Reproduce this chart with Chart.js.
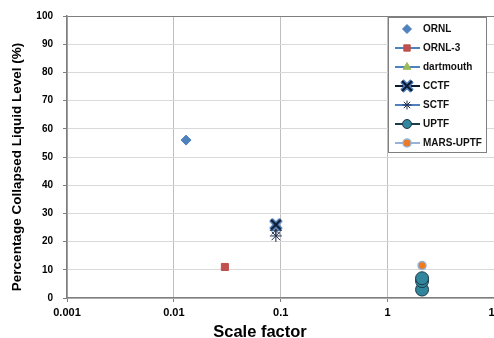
<!DOCTYPE html>
<html>
<head>
<meta charset="utf-8">
<script src="https://cdn.jsdelivr.net/npm/chart.js@4/dist/chart.umd.min.js"></script>
<style>
  html, body { margin: 0; padding: 0; background: #fff; overflow: hidden; }
  #caixa { width: 494px; height: 338px; overflow: hidden; }
</style>
</head>
<body>
<!-- o grafico original esta cortado na direita, por isso o canvas e um pouco mais largo -->
<div id="caixa"><canvas id="grafico" width="502" height="338"></canvas></div>
<script>
// dados
const seriesNames = ["ORNL", "ORNL-3", "dartmouth", "CCTF", "SCTF", "UPTF", "MARS-UPTF"];

const ornlX = [0.013];
const ornlY = [56];
const ornl3X = [0.03];
const ornl3Y = [11];
const dartmouthX = [];
const dartmouthY = [];
const cctfX = [0.09];
const cctfY = [26];
const sctfX = [0.09, 0.09];
const sctfY = [22, 24];
const uptfX = [2.1, 2.1, 2.1];
const uptfY = [3, 6, 7];
const marsX = [2.1];
const marsY = [11.5];

const xTicks = [0.001, 0.01, 0.1, 1, 10];
const xTickLabels = ["0.001", "0.01", "0.1", "1", "10"];
const yTitle = "Percentage Collapsed Liquid Level (%)";
const xTitle = "Scale factor";

const FONT = "'Liberation Sans', Arial, sans-serif";

function pontos(xs, ys) {
  return xs.map((x, i) => ({ x: x, y: ys[i] }));
}

// marcador X do CCTF (X preto com preenchimento azul, estilo excel)
function marcadorX() {
  const c = document.createElement("canvas");
  c.width = 14; c.height = 14;
  const g = c.getContext("2d");
  const cruz = () => {
    g.beginPath();
    g.moveTo(2, 2); g.lineTo(12, 12);
    g.moveTo(12, 2); g.lineTo(2, 12);
    g.stroke();
  };
  g.strokeStyle = "#4F81BD"; g.lineWidth = 5; cruz();
  g.strokeStyle = "#0F1B33"; g.lineWidth = 2.2; cruz();
  return c;
}

const datasets = [
  { label: seriesNames[0], data: pontos(ornlX, ornlY), pointStyle: "rectRot", pointRadius: 5,
    backgroundColor: "#4F81BD", borderColor: "#4F81BD", borderWidth: 1, legendLine: null },
  { label: seriesNames[1], data: pontos(ornl3X, ornl3Y), pointStyle: "rect", pointRadius: 5,
    backgroundColor: "#C0504D", borderColor: "#C0504D", borderWidth: 1, legendLine: "#4F81BD" },
  { label: seriesNames[2], data: pontos(dartmouthX, dartmouthY), pointStyle: "triangle", pointRadius: 5,
    backgroundColor: "#9BBB59", borderColor: "#9BBB59", borderWidth: 1, legendLine: "#4F81BD" },
  { label: seriesNames[3], data: pontos(cctfX, cctfY), pointStyle: marcadorX(), pointRadius: 6,
    backgroundColor: "#4F81BD", borderColor: "#0F1B33", borderWidth: 1, legendLine: "#0F1B33" },
  { label: seriesNames[4], data: pontos(sctfX, sctfY), pointStyle: "star", pointRadius: 6,
    backgroundColor: "#1F2F4F", borderColor: "#1F2F4F", borderWidth: 1, legendLine: "#4F81BD" },
  { label: seriesNames[5], data: pontos(uptfX, uptfY), pointStyle: "circle", pointRadius: 6.5,
    backgroundColor: "#31859C", borderColor: "#1D3B4A", borderWidth: 1, legendLine: "#1D3B4A" },
  { label: seriesNames[6], data: pontos(marsX, marsY), pointStyle: "circle", pointRadius: 4,
    backgroundColor: "#F07A1E", borderColor: "#95B3D7", borderWidth: 1.5, legendLine: "#95B3D7" }
];

// legenda desenhada a mao (linha + marcador, como no excel)
const legenda = {
  id: "legenda",
  afterDraw(chart) {
    const ctx = chart.ctx;
    ctx.save();
    ctx.fillStyle = "#fff";
    ctx.fillRect(388.5, 17.5, 98, 135);
    ctx.strokeStyle = "#7F7F7F";
    ctx.lineWidth = 1;
    ctx.strokeRect(388.5, 17.5, 98, 135);
    chart.data.datasets.forEach((ds, i) => {
      const y = 29 + i * 19;
      if (ds.legendLine) {
        ctx.strokeStyle = ds.legendLine;
        ctx.lineWidth = 2;
        ctx.beginPath();
        ctx.moveTo(395, y); ctx.lineTo(420, y);
        ctx.stroke();
      }
      ctx.fillStyle = ds.backgroundColor;
      ctx.strokeStyle = ds.borderColor;
      ctx.lineWidth = ds.borderWidth;
      Chart.helpers.drawPoint(ctx, {
        pointStyle: ds.pointStyle,
        radius: Math.min(ds.pointRadius, 4.5),
        borderWidth: ds.borderWidth,
        rotation: 0
      }, 407, y);
      ctx.fillStyle = "#111";
      ctx.font = "bold 10px " + FONT;
      ctx.textBaseline = "middle";
      ctx.textAlign = "left";
      ctx.fillText(ds.label, 423, y + 0.5);
    });
    ctx.restore();
  }
};

// titulos dos eixos
const titulos = {
  id: "titulos",
  afterDraw(chart) {
    const ctx = chart.ctx;
    ctx.save();
    ctx.fillStyle = "#000";
    ctx.font = "bold 16.5px " + FONT;
    ctx.textAlign = "center";
    ctx.textBaseline = "alphabetic";
    ctx.fillText(xTitle, 260, 337);
    ctx.translate(17, 167);
    ctx.rotate(-Math.PI / 2);
    ctx.font = "bold 13.5px " + FONT;
    ctx.textBaseline = "middle";
    ctx.fillText(yTitle, 0, 0);
    ctx.restore();
  }
};

new Chart(document.getElementById("grafico"), {
  type: "scatter",
  data: { datasets: datasets },
  options: {
    responsive: false,
    animation: false,
    devicePixelRatio: 1,
    layout: { padding: { top: 16, right: 0, bottom: 0, left: 0 } },
    plugins: {
      legend: { display: false },
      tooltip: { enabled: false }
    },
    elements: { point: { hoverRadius: 5 } },
    datasets: { scatter: { clip: false } },
    scales: {
      x: {
        type: "logarithmic",
        min: 0.001,
        max: 10,
        afterBuildTicks(scale) {
          scale.ticks = xTicks.map(v => ({ value: v }));
        },
        afterFit(scale) {
          scale.height = 40;
          scale.paddingLeft = 0;
          scale.paddingRight = 0;
        },
        ticks: {
          autoSkip: false,
          maxRotation: 0,
          padding: 4,
          color: "#000",
          font: { family: FONT, size: 11, weight: "bold" },
          callback: (v, i) => xTickLabels[i]
        },
        grid: { color: "#BFBFBF", tickColor: "#7F7F7F", tickLength: 4 },
        border: { color: "#7F7F7F", width: 1.5 }
      },
      y: {
        min: 0,
        max: 100,
        afterFit(scale) {
          scale.width = 67;
          scale.paddingTop = 0;
          scale.paddingBottom = 0;
        },
        ticks: {
          stepSize: 10,
          padding: 10,
          color: "#000",
          font: { family: FONT, size: 10, weight: "bold" }
        },
        grid: {
          color: c => (c.tick && c.tick.value === 100 ? "#7F7F7F" : "#D9D9D9"),
          tickColor: "#7F7F7F",
          tickLength: 4
        },
        border: { color: "#7F7F7F", width: 1.5 }
      }
    }
  },
  plugins: [legenda, titulos]
});
</script>
</body>
</html>
